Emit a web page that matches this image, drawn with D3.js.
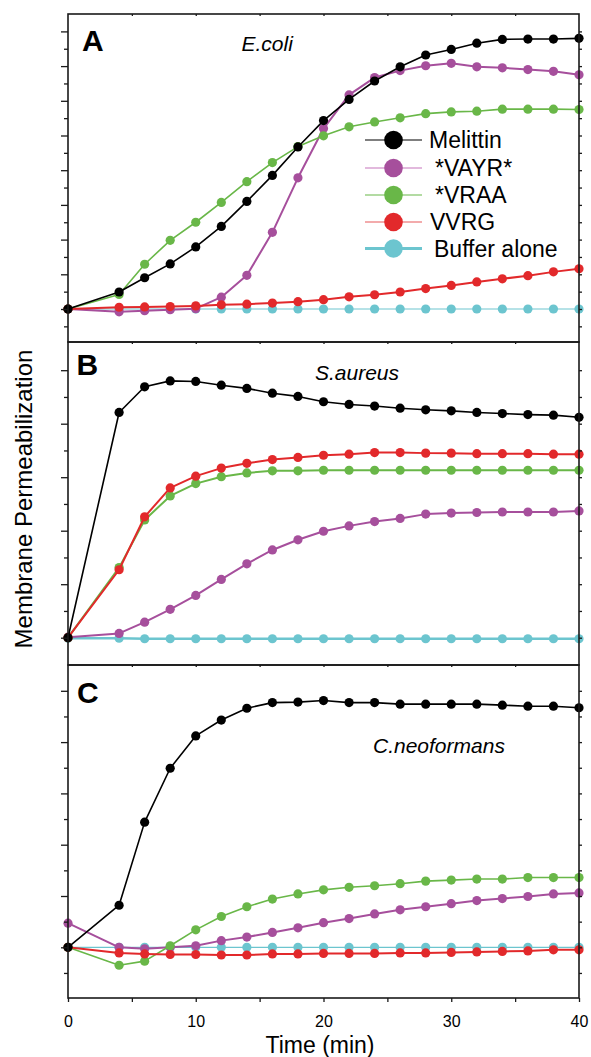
<!DOCTYPE html>
<html>
<head>
<meta charset="utf-8">
<script src="https://cdn.jsdelivr.net/npm/d3@7"></script>
<style>
  html, body { margin: 0; padding: 0; background: #fff; }
  svg { display: block; }
  text { font-family: "Liberation Sans", Arial, Helvetica, sans-serif; }
</style>
</head>
<body>
<svg id="chart" width="591" height="1057"></svg>
<script>
// ---------------- data ----------------
const timeMin = [0, 4, 6, 8, 10, 12, 14, 16, 18, 20, 22, 24, 26, 28, 30, 32, 34, 36, 38, 40];
const seriesNames = ["Melittin", "*VAYR*", "*VRAA", "VVRG", "Buffer alone"];
const xTickLabels = [0, 10, 20, 30, 40];

// Panel A: E.coli
const ecoliMelittin = [0, 0.49, 0.90, 1.30, 1.79, 2.38, 3.10, 3.85, 4.67, 5.43, 6.04, 6.57, 6.98, 7.32, 7.48, 7.66, 7.77, 7.78, 7.78, 7.80];
const ecoliVAYR     = [0, -0.08, -0.05, -0.02, 0.01, 0.34, 0.97, 2.21, 3.78, 5.20, 6.17, 6.67, 6.87, 7.01, 7.08, 6.98, 6.95, 6.90, 6.85, 6.75];
const ecoliVRAA     = [0, 0.42, 1.29, 1.98, 2.50, 3.07, 3.67, 4.22, 4.68, 4.99, 5.25, 5.39, 5.51, 5.63, 5.68, 5.70, 5.76, 5.76, 5.76, 5.75];
const ecoliVVRG     = [0, 0.05, 0.06, 0.07, 0.09, 0.12, 0.14, 0.17, 0.21, 0.27, 0.35, 0.41, 0.49, 0.59, 0.68, 0.78, 0.87, 0.96, 1.07, 1.16];
const ecoliBuffer   = [0, 0, 0, 0, 0, 0, 0, 0, 0, 0, 0, 0, 0, 0, 0, 0, 0, 0, 0, 0];

// Panel B: S.aureus
const saureusMelittin = [0, 4.21, 4.69, 4.80, 4.79, 4.72, 4.66, 4.57, 4.51, 4.41, 4.36, 4.33, 4.29, 4.26, 4.24, 4.21, 4.19, 4.17, 4.16, 4.12];
const saureusVAYR     = [0.01, 0.08, 0.29, 0.53, 0.79, 1.09, 1.38, 1.64, 1.83, 1.99, 2.09, 2.17, 2.23, 2.31, 2.33, 2.34, 2.35, 2.35, 2.35, 2.37];
const saureusVRAA     = [0, 1.31, 2.20, 2.65, 2.88, 3.01, 3.08, 3.12, 3.12, 3.13, 3.13, 3.13, 3.13, 3.13, 3.13, 3.13, 3.13, 3.13, 3.13, 3.13];
const saureusVVRG     = [0, 1.27, 2.26, 2.80, 3.02, 3.17, 3.26, 3.33, 3.37, 3.41, 3.43, 3.46, 3.46, 3.45, 3.45, 3.44, 3.44, 3.44, 3.43, 3.43];
const saureusBuffer   = [-0.01, -0.01, -0.02, -0.02, -0.02, -0.02, -0.02, -0.02, -0.02, -0.02, -0.02, -0.02, -0.02, -0.02, -0.02, -0.02, -0.02, -0.02, -0.02, -0.02];

// Panel C: C.neoformans
const cneoMelittin = [0, 0.82, 2.44, 3.49, 4.12, 4.43, 4.66, 4.77, 4.78, 4.81, 4.77, 4.77, 4.74, 4.74, 4.74, 4.74, 4.72, 4.70, 4.70, 4.67];
const cneoVAYR     = [0.47, 0, -0.03, 0, 0.03, 0.13, 0.20, 0.29, 0.38, 0.48, 0.56, 0.65, 0.73, 0.79, 0.85, 0.91, 0.95, 0.99, 1.04, 1.06];
const cneoVRAA     = [0, -0.35, -0.27, 0.03, 0.34, 0.60, 0.79, 0.94, 1.04, 1.12, 1.17, 1.20, 1.24, 1.29, 1.31, 1.33, 1.33, 1.36, 1.36, 1.36];
const cneoVVRG     = [0, -0.11, -0.13, -0.14, -0.14, -0.15, -0.15, -0.13, -0.13, -0.12, -0.12, -0.12, -0.11, -0.11, -0.10, -0.09, -0.08, -0.07, -0.05, -0.05];
const cneoBuffer   = [0, 0, 0, 0, 0, 0, 0, 0, 0, 0, 0, 0, 0, 0, 0, 0, 0, 0, 0, 0];

// ---------------- styling ----------------
const colors = { "Melittin": "#000000", "*VAYR*": "#a64f9c", "*VRAA": "#69b748", "VVRG": "#e2292b", "Buffer alone": "#6cc5cf" };
const legendLineColors = { "Melittin": "#000000", "*VAYR*": "#d9a2d2", "*VRAA": "#69b748", "VVRG": "#e8585a", "Buffer alone": "#6cc5cf" };
const drawOrder = ["Buffer alone", "*VAYR*", "*VRAA", "VVRG", "Melittin"];

const panels = [
  { letter: "A", species: "E.coli", top: 14, bottom: 342, zeroY: 309, unit: 34.7, majors: [0,1,2,3,4,5,6,7,8],
    minors: [-0.5,0.5,1.5,2.5,3.5,4.5,5.5,6.5,7.5],
    letterPos: [82, 50.7], speciesPos: [241.5, 50.7],
    cyanWidth: 1, lineWidths: { "Melittin": 1.6, "*VAYR*": 2, "*VRAA": 1.6, "VVRG": 2, "Buffer alone": 1 },
    data: { "Melittin": ecoliMelittin, "*VAYR*": ecoliVAYR, "*VRAA": ecoliVRAA, "VVRG": ecoliVVRG, "Buffer alone": ecoliBuffer } },
  { letter: "B", species: "S.aureus", top: 342, bottom: 665, zeroY: 637.7, unit: 53.5, majors: [0,1,2,3,4,5],
    minors: [0.5,1.5,2.5,3.5,4.5],
    letterPos: [76.5, 375], speciesPos: [315, 380],
    lineWidths: { "Melittin": 1.6, "*VAYR*": 2, "*VRAA": 2, "VVRG": 2, "Buffer alone": 2.6 },
    data: { "Melittin": saureusMelittin, "*VAYR*": saureusVAYR, "*VRAA": saureusVRAA, "VVRG": saureusVVRG, "Buffer alone": saureusBuffer } },
  { letter: "C", species: "C.neoformans", top: 665, bottom: 998, zeroY: 947.3, unit: 51.3, majors: [0,1,2,3,4,5],
    minors: [-0.5,0.5,1.5,2.5,3.5,4.5],
    letterPos: [77, 702.7], speciesPos: [373, 752.7],
    lineWidths: { "Melittin": 1.6, "*VAYR*": 2, "*VRAA": 1.6, "VVRG": 2, "Buffer alone": 1.2 },
    data: { "Melittin": cneoMelittin, "*VAYR*": cneoVAYR, "*VRAA": cneoVRAA, "VVRG": cneoVVRG, "Buffer alone": cneoBuffer } }
];

const svg = d3.select("#chart");
const x = d3.scaleLinear().domain([0, 40]).range([68, 579]);
const axisColor = "#1a1a1a";

panels.forEach((p, i) => {
  const y = d3.scaleLinear()
    .domain([-(p.bottom - p.zeroY) / p.unit, (p.zeroY - p.top) / p.unit])
    .range([p.bottom, p.top]);
  const g = svg.append("g");

  // series lines + markers
  drawOrder.forEach(name => {
    const vals = p.data[name];
    const pts = timeMin.map((t, k) => ({ t, v: vals[k] }));
    const line = d3.line().x(d => x(d.t)).y(d => y(d.v));
    g.append("path").datum(pts)
      .attr("d", line).attr("fill", "none")
      .attr("stroke", colors[name]).attr("stroke-width", p.lineWidths[name])
      .attr("stroke-linejoin", "round");
    g.selectAll(null).data(pts).enter().append("circle")
      .attr("cx", d => x(d.t)).attr("cy", d => y(d.v)).attr("r", 4.6)
      .attr("fill", colors[name]);
  });

  // frame
  g.append("rect").attr("x", x(0)).attr("y", p.top)
    .attr("width", x(40) - x(0)).attr("height", p.bottom - p.top)
    .attr("fill", "none").attr("stroke", axisColor).attr("stroke-width", 1.6);

  const styleAxis = sel => {
    sel.select(".domain").remove();
    sel.selectAll("line").attr("stroke", axisColor).attr("stroke-width", 1.3);
  };
  // left ticks
  g.append("g").attr("transform", `translate(${x(0)},0)`)
    .call(d3.axisLeft(y).tickValues(p.majors).tickSize(7).tickFormat("")).call(styleAxis);
  g.append("g").attr("transform", `translate(${x(0)},0)`)
    .call(d3.axisLeft(y).tickValues(p.minors).tickSize(4).tickFormat("")).call(styleAxis);
  // right ticks
  g.append("g").attr("transform", `translate(${x(40)},0)`)
    .call(d3.axisRight(y).tickValues(p.majors.concat(p.minors)).tickSize(3).tickFormat("")).call(styleAxis);
  // top ticks (inward)
  g.append("g").attr("transform", `translate(0,${p.top})`)
    .call(d3.axisBottom(x).tickValues([5,10,15,20,25,30,35]).tickSize(2).tickFormat("")).call(styleAxis);

  // panel letter & species
  g.append("text").attr("x", p.letterPos[0]).attr("y", p.letterPos[1])
    .attr("font-size", 30).attr("font-weight", "bold").attr("fill", "#000").text(p.letter);
  g.append("text").attr("x", p.speciesPos[0]).attr("y", p.speciesPos[1])
    .attr("font-size", 21).attr("font-style", "italic").attr("fill", "#000").text(p.species);

  if (i === panels.length - 1) {
    const bx = g.append("g").attr("transform", `translate(0,${p.bottom})`)
      .call(d3.axisBottom(x).tickValues([0,5,10,15,20,25,30,35,40]).tickSize(4)
        .tickFormat(d => xTickLabels.includes(d) ? d : ""));
    styleAxis(bx);
    bx.selectAll("text").attr("font-size", 16).attr("fill", "#000").attr("dy", 0).attr("y", 29)
      .attr("font-family", "Liberation Sans, Arial, sans-serif");
  }
});

// legend (panel A)
const legend = svg.append("g");
const legendRows = [140, 168, 195, 222, 248.5];
const legendLineW = { "Melittin": 1.2, "*VAYR*": 1.6, "*VRAA": 1.2, "VVRG": 1.2, "Buffer alone": 3 };
const legendTextX = { "Melittin": 429, "*VAYR*": 435, "*VRAA": 435, "VVRG": 430, "Buffer alone": 434 };
seriesNames.forEach((name, k) => {
  const cy = legendRows[k];
  legend.append("line").attr("x1", 365).attr("x2", 422).attr("y1", cy).attr("y2", cy)
    .attr("stroke", legendLineColors[name]).attr("stroke-width", legendLineW[name]);
  legend.append("circle").attr("cx", 393.5).attr("cy", cy).attr("r", 9.3).attr("fill", colors[name]);
  legend.append("text").attr("x", legendTextX[name]).attr("y", cy + 8.3)
    .attr("font-size", 23).attr("fill", "#000").text(name);
});

// axis titles
svg.append("text").attr("transform", "translate(31.5,499) rotate(-90)")
  .attr("text-anchor", "middle").attr("font-size", 24).attr("fill", "#000")
  .text("Membrane Permeabilization");
svg.append("text").attr("x", 320).attr("y", 1053).attr("text-anchor", "middle")
  .attr("font-size", 23).attr("fill", "#000").text("Time (min)");
</script>
</body>
</html>
